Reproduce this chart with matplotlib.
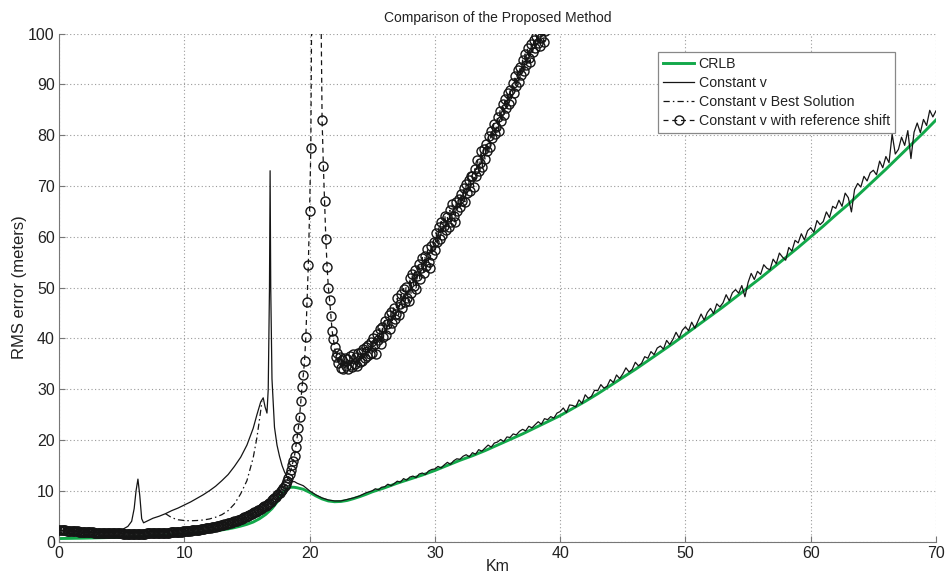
import numpy as np
import matplotlib
matplotlib.use("Agg")
import matplotlib.pyplot as plt

plt.rcParams['font.family'] = ['Liberation Sans', 'DejaVu Sans']

# ---------------- data ----------------
crlb_km = [0, 0.5, 1, 1.5, 2, 2.5, 3, 3.5, 4, 4.5, 5, 5.5, 6, 6.5, 7, 7.5, 8, 8.5, 9, 9.5,
           10, 10.5, 11, 11.5, 12, 12.5, 13, 13.5, 14, 14.5, 15, 15.5, 16, 16.5, 17, 17.5,
           17.75, 18, 18.25, 18.5, 18.75, 19, 19.5, 20, 20.5, 21, 21.5, 22, 22.5, 23, 23.5,
           24, 24.5, 25, 26, 27, 28, 29, 30, 31, 32, 33, 34, 35, 36, 37, 38, 39, 40, 41, 42,
           43, 44, 45, 46, 47, 48, 49, 50, 51, 52, 53, 54, 55, 56, 57, 58, 59, 60, 61, 62,
           63, 64, 65, 66, 67, 68, 69, 70]
crlb_rms = [0.60, 0.62, 0.64, 0.66, 0.68, 0.71, 0.74, 0.77, 0.80, 0.84,
            0.88, 0.92, 0.97, 1.02, 1.07, 1.13, 1.19, 1.26, 1.34, 1.42,
            1.51, 1.61, 1.72, 1.84, 1.98, 2.13, 2.30, 2.50, 2.75, 3.05,
            3.40, 3.85, 4.50, 5.35, 6.50, 8.10,
            9.20, 10.0, 10.5, 10.7, 10.7, 10.6,
            10.3, 9.7, 9.0, 8.4, 8.0, 7.85, 7.9, 8.1, 8.45, 8.85, 9.3,
            9.8, 10.6, 11.5, 12.3, 13.1, 14.0, 15.0, 16.0, 16.9, 17.9,
            19.0, 20.1, 21.2, 22.4, 23.6, 24.8, 26.2, 27.6, 29.1, 30.7,
            32.3, 33.9, 35.6, 37.3, 39.0, 40.8, 42.6, 44.4, 46.2, 48.1,
            50.0, 51.9, 53.9, 55.9, 57.9, 60.0, 62.1, 64.3, 66.4, 68.7,
            71.0, 73.3, 75.7, 78.1, 80.5, 83.0]

# Constant v : first part (0-24.5 km)
cv_km_near = [0, 1, 2, 3, 4, 4.5, 5, 5.5, 5.8, 6.0, 6.15, 6.3, 6.45, 6.6, 6.75,
              7, 7.5, 8, 8.5, 9, 9.5, 10, 10.5, 11, 11.5,
              12, 12.5, 13, 13.5, 14, 14.5, 15, 15.5, 15.8, 16.1,
              16.3, 16.45, 16.6, 16.7, 16.8, 16.85, 16.9, 17.0, 17.2, 17.4,
              17.6, 17.8, 18.0, 18.2, 18.4, 18.6, 18.8, 19.0, 19.5, 20,
              20.5, 21, 21.5, 22, 22.5, 23, 23.5, 24, 24.5]
cv_rms_near = [2.2, 2.0, 1.85, 1.75, 1.75, 1.85, 2.3, 3.0, 4.0, 6.5, 10.0, 12.3, 9.0, 4.5, 3.7,
               4.0, 4.6, 5.0, 5.5, 6.1, 6.6, 7.2, 7.8, 8.5, 9.2,
               10.0, 10.9, 12.0, 13.2, 14.8, 16.6, 19.0, 22.3, 25.0, 27.5,
               28.3, 26.5, 25.3, 30, 50, 73, 50, 32, 22.5, 19,
               16.8, 15.0, 13.7, 12.8, 12.2, 11.8, 11.8, 11.5, 11.0, 10.0,
               9.2, 8.6, 8.2, 8.0, 8.0, 8.3, 8.6, 9.0, 9.6]

# Constant v : second part, sampled every 0.25 km from 25 to 70 km
cv_step_km = 0.25
cv_rms_far = [
    10.0, 10.4, 10.2, 10.7,   10.8, 11.3, 11.0, 11.4,   11.9, 11.7, 12.4, 12.1,
    12.7, 12.9, 12.6, 13.3,   13.5, 13.2, 13.9, 14.2,   14.3, 14.8, 14.5, 15.1,
    15.6, 15.2, 15.9, 16.3,   16.2, 16.8, 17.1, 16.7,   17.5, 17.2, 18.1, 17.8,
    18.4, 19.0, 18.6, 19.4,   19.6, 20.1, 19.7, 20.6,   20.5, 21.2, 21.0, 21.7,
    22.1, 21.8, 22.7, 22.4,   23.0, 23.6, 23.1, 24.2,   24.0, 24.6, 24.3, 25.3,
    25.6, 26.3, 25.4, 26.9,   26.8, 26.5, 27.9, 27.2,   28.9, 28.2, 28.6, 29.8,
    29.7, 30.9, 30.2, 30.6,   31.9, 31.3, 32.8, 32.1,   33.0, 34.2, 33.4, 33.9,
    35.3, 34.6, 35.1, 36.4,   36.1, 37.4, 36.8, 38.1,   38.5, 37.9, 39.6, 38.8,
    39.8, 41.2, 40.1, 41.6,   42.3, 41.5, 43.2, 42.0,   43.4, 44.8, 43.6, 45.1,
    45.9, 44.9, 46.8, 46.2,   47.0, 48.6, 47.4, 49.0,   49.6, 48.9, 50.4, 48.2,
    51.0, 52.8, 51.6, 53.2,   52.6, 54.5, 53.8, 53.5,   55.6, 54.7, 56.8, 56.0,
    55.4, 57.9, 57.2, 59.3,   58.8, 60.6, 59.4, 61.2,   61.8, 60.9, 63.2, 62.4,
    63.0, 64.9, 63.8, 66.0,   65.6, 67.2, 66.0, 68.6,   67.7, 64.9, 69.3, 70.5,
    69.8, 71.9, 71.0, 72.6,   73.1, 72.2, 74.9, 73.6,   75.8, 74.6, 80.2, 76.3,
    77.2, 79.6, 78.0, 80.9,   75.4, 80.6, 82.4, 80.5,   83.1, 81.9, 84.9, 83.6,
    84.8]

# Constant v Best Solution (visible where it departs from Constant v)
best_km = [8.5, 9.0, 9.5, 10, 10.5, 11, 11.5, 12, 12.5, 13, 13.5, 14, 14.5, 15,
           15.5, 15.8, 16.0, 16.2]
best_rms = [5.5, 4.7, 4.3, 4.15, 4.1, 4.15, 4.25, 4.45, 4.8, 5.3, 6.1, 7.4, 9.4, 12.0,
            16.5, 20.5, 24.0, 27.6]

# Constant v with reference shift, sampled every 0.1 km from 0 km
ref_step_km = 0.1
ref_rms = [
    2.30, 2.28, 2.26, 2.24, 2.22, 2.20, 2.18, 2.16, 2.14, 2.12,
    2.10, 2.08, 2.06, 2.04, 2.02, 2.00, 1.98, 1.96, 1.94, 1.92,
    1.90, 1.88, 1.87, 1.85, 1.84, 1.82, 1.81, 1.80, 1.78, 1.77,
    1.76, 1.75, 1.74, 1.73, 1.72, 1.71, 1.70, 1.69, 1.68, 1.67,
    1.66, 1.65, 1.64, 1.64, 1.63, 1.62, 1.62, 1.61, 1.61, 1.60,
    1.60, 1.59, 1.59, 1.58, 1.58, 1.58, 1.57, 1.57, 1.57, 1.57,
    1.57, 1.57, 1.57, 1.57, 1.57, 1.58, 1.58, 1.58, 1.59, 1.59,
    1.60, 1.60, 1.61, 1.62, 1.62, 1.63, 1.64, 1.65, 1.66, 1.67,
    1.68, 1.69, 1.70, 1.72, 1.73, 1.74, 1.76, 1.77, 1.79, 1.81,
    1.82, 1.84, 1.86, 1.88, 1.90, 1.92, 1.94, 1.96, 1.98, 2.00,
    2.03, 2.05, 2.08, 2.10, 2.13, 2.16, 2.19, 2.22, 2.25, 2.28,
    2.31, 2.35, 2.38, 2.42, 2.46, 2.50, 2.54, 2.58, 2.62, 2.66,
    2.70, 2.75, 2.80, 2.85, 2.90, 2.95, 3.00, 3.06, 3.12, 3.18,
    3.24, 3.30, 3.37, 3.44, 3.51, 3.58, 3.65, 3.73, 3.81, 3.89,
    3.97, 4.06, 4.15, 4.24, 4.33, 4.43, 4.53, 4.64, 4.75, 4.86,
    4.97, 5.09, 5.21, 5.34, 5.47, 5.60, 5.74, 5.89, 6.04, 6.20,
    6.30, 6.45, 6.60, 6.76, 6.93, 7.10, 7.28, 7.47, 7.67, 7.88,
    8.10, 8.33, 8.57, 8.82, 9.08, 9.35, 9.63, 9.92, 10.22, 10.55,
    10.9, 11.4, 11.9, 12.6, 13.3, 14.1, 15.0, 15.9, 16.9, 18.6,
    20.4, 22.3, 24.6, 27.6, 30.5, 32.8, 35.6, 40.2, 47.2, 54.5,
    65.0, 77.5, 118, 150, 170, 180, 175, 160, 138, 108,
    83.0, 74.0, 67.0, 59.5, 54.0, 50.0, 47.5, 44.5, 41.5, 39.8,
    38.3, 36.4, 37.2, 35.1, 36.3, 34.2, 35.8, 33.9, 36.1, 34.6,
    35.9, 34.0, 36.6, 34.8, 34.3, 36.9, 35.0, 36.3, 34.6, 37.1,
    35.3, 37.4, 35.6, 38.0, 36.2, 38.3, 36.5, 38.7, 37.0, 39.2,
    37.2, 40.1, 38.9, 36.9, 40.8, 39.7, 41.9, 38.8, 42.3, 40.2,
    43.5, 40.6, 42.9, 44.6, 41.9, 45.2, 43.1, 46.0, 43.8, 44.9,
    47.9, 44.6, 46.8, 48.7, 45.9, 49.8, 47.2, 50.1, 48.0, 47.3,
    51.8, 48.9, 52.6, 50.4, 53.5, 49.8, 52.2, 54.7, 51.6, 53.9,
    55.9, 52.8, 56.2, 54.3, 57.6, 55.0, 53.9, 58.2, 56.4, 59.0,
    57.4, 60.8, 58.9, 61.9, 59.6, 63.0, 60.4, 62.2, 64.1, 61.3,
    63.8, 61.9, 65.2, 63.0, 66.4, 64.1, 62.9, 66.8, 65.0, 67.5,
    65.8, 68.4, 67.1, 69.6, 66.9, 70.3, 68.6, 71.2, 69.0, 72.0,
    71.9, 69.8, 73.4, 72.0, 75.1, 72.9, 74.6, 76.8, 73.8, 77.2,
    75.3, 78.2, 76.9, 79.8, 77.6, 80.9, 79.4, 82.3, 80.2, 81.6,
    83.6, 80.9, 84.8, 82.7, 86.1, 84.0, 87.2, 85.3, 88.4, 86.2,
    88.9, 86.8, 90.2, 88.4, 91.6, 89.7, 92.8, 90.5, 93.4, 91.9,
    94.8, 92.6, 96.0, 93.9, 97.1, 95.2, 94.4, 97.9, 96.3, 98.8,
    97.2, 99.6, 98.1, 100.4, 97.6, 99.2, 101.0, 98.4, 100.6]

x_ticks = [0, 10, 20, 30, 40, 50, 60, 70]
y_ticks = [0, 10, 20, 30, 40, 50, 60, 70, 80, 90, 100]
legend_labels = ['CRLB', 'Constant v', 'Constant v Best Solution',
                 'Constant v with reference shift']

# ---------------- derived sample positions ----------------
cv_km_far = 25 + cv_step_km * np.arange(len(cv_rms_far))
cv_km = np.concatenate([cv_km_near, cv_km_far])
cv_rms = np.concatenate([cv_rms_near, cv_rms_far])
ref_km = ref_step_km * np.arange(len(ref_rms))

# ---------------- figure ----------------
W, H = 946, 573
fig = plt.figure(figsize=(W / 100, H / 100), dpi=100)
ax = fig.add_axes([59 / W, 1 - 541.6 / H, (936 - 59) / W, (541.6 - 33.6) / H])

green = '#12a84a'
ink = '#151515'
ax.plot(crlb_km, crlb_rms, color=green, lw=2.1, label=legend_labels[0], zorder=2)
ax.plot(cv_km, cv_rms, color=ink, lw=0.9, label=legend_labels[1], zorder=3)
ax.plot(best_km, best_rms, color=ink, lw=0.9, ls=(0, (5, 2.5, 1.2, 2.5)),
        label=legend_labels[2], zorder=3)
ax.plot(ref_km, ref_rms, color=ink, lw=0.9, ls=(0, (4, 3)), marker='o',
        ms=6.5, mfc='none', mec=ink, mew=1.0, label=legend_labels[3], zorder=4)

ax.set_xlim(0, 70)
ax.set_ylim(0, 100)
ax.set_xticks(x_ticks)
ax.set_yticks(y_ticks)
ax.grid(True, color='#9a9a9a', lw=0.8, ls=(0, (1, 2.2)))
ax.set_axisbelow(True)
for s in ['top', 'right']:
    ax.spines[s].set_visible(False)
for s in ['left', 'bottom']:
    ax.spines[s].set_color('#777777')
    ax.spines[s].set_linewidth(0.8)
ax.tick_params(direction='in', length=4, width=0.8, color='#777777',
               labelsize=11.5, labelcolor='#222222', pad=3)

ax.set_xlabel('Km', fontsize=11.5, color='#222222', labelpad=-1.5)
ax.set_ylabel('RMS error (meters)', fontsize=12, color='#222222', labelpad=1)
ax.set_title('Comparison of the Proposed Method', fontsize=10, color='#222222', pad=8)

leg = ax.legend(loc='upper right', bbox_to_anchor=(0.953, 0.964), fontsize=10.2,
                frameon=True, fancybox=False, framealpha=1, edgecolor='#888888',
                handlelength=2.2, handletextpad=0.3, borderpad=0.35, labelspacing=0.35,
                numpoints=1, borderaxespad=0)
leg.get_frame().set_linewidth(0.9)
for t in leg.get_texts():
    t.set_color('#222222')

fig.savefig('out.png', dpi=100)
